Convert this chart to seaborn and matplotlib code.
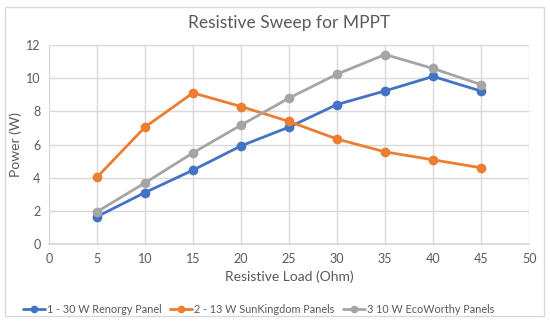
import numpy as np
import pandas as pd
import seaborn as sns
import matplotlib.pyplot as plt
from matplotlib.patches import Rectangle

# data
load_ohm = [5, 10, 15, 20, 25, 30, 35, 40, 45]
renogy_30w = [1.66, 3.11, 4.46, 5.92, 7.05, 8.41, 9.23, 10.10, 9.22]
sunkingdom_13w = [4.03, 7.05, 9.11, 8.29, 7.39, 6.33, 5.56, 5.08, 4.60]
ecoworthy_10w = [1.95, 3.69, 5.50, 7.17, 8.80, 10.24, 11.42, 10.58, 9.61]
series_names = ["1 - 30 W Renorgy Panel", "2 - 13 W SunKingdom Panels",
                "3 10 W EcoWorthy Panels"]
x_ticks = [0, 5, 10, 15, 20, 25, 30, 35, 40, 45, 50]
y_ticks = [0, 2, 4, 6, 8, 10, 12]

df = pd.DataFrame({
    "load": load_ohm * 3,
    "power": renogy_30w + sunkingdom_13w + ecoworthy_10w,
    "panel": np.repeat(series_names, len(load_ohm)),
})

sns.set_theme(style="white")
plt.rcParams['font.family'] = ['Lato', 'DejaVu Sans']
txt = "#595959"
colors = ["#4472C4", "#ED7D31", "#A5A5A5"]

fig = plt.figure(figsize=(5.5, 3.23), dpi=100)
ax = fig.add_axes([0.089, 0.244, 0.873, 0.617])

sns.lineplot(data=df, x="load", y="power", hue="panel", palette=colors,
             marker="o", markersize=7, markeredgewidth=0, linewidth=2,
             ax=ax, legend=True)

ax.set_xlim(0, 50)
ax.set_ylim(0, 12)
ax.set_xticks(x_ticks)
ax.set_yticks(y_ticks)
ax.grid(True, color="#D9D9D9", linewidth=1)
ax.set_axisbelow(True)
for s in ["top", "right", "left"]:
    ax.spines[s].set_visible(False)
ax.spines["bottom"].set_color("#D9D9D9")
ax.tick_params(axis="both", colors=txt, labelsize=9, length=0, pad=6)
ax.set_xlabel("Resistive Load (Ohm)", color=txt, fontsize=10, labelpad=4)
ax.set_ylabel("Power (W)", color=txt, fontsize=10, labelpad=3)
ax.set_title("Resistive Sweep for MPPT", color=txt, fontsize=12.5, pad=12)

handles, labels = ax.get_legend_handles_labels()
ax.get_legend().remove()
for h in handles:
    h.set_markersize(5.5)
fig.legend(handles, labels, loc="lower center", bbox_to_anchor=(0.47, 0.002),
           ncol=3, frameon=False, fontsize=7.8, labelcolor=txt,
           handlelength=2.0, handletextpad=0.2, columnspacing=0.8,
           borderpad=0.2)

fig.add_artist(Rectangle((0.009, 0.022), 0.98, 0.955, transform=fig.transFigure,
                         fill=False, edgecolor="#D9D9D9", linewidth=1))

fig.savefig("out.png", dpi=100)
